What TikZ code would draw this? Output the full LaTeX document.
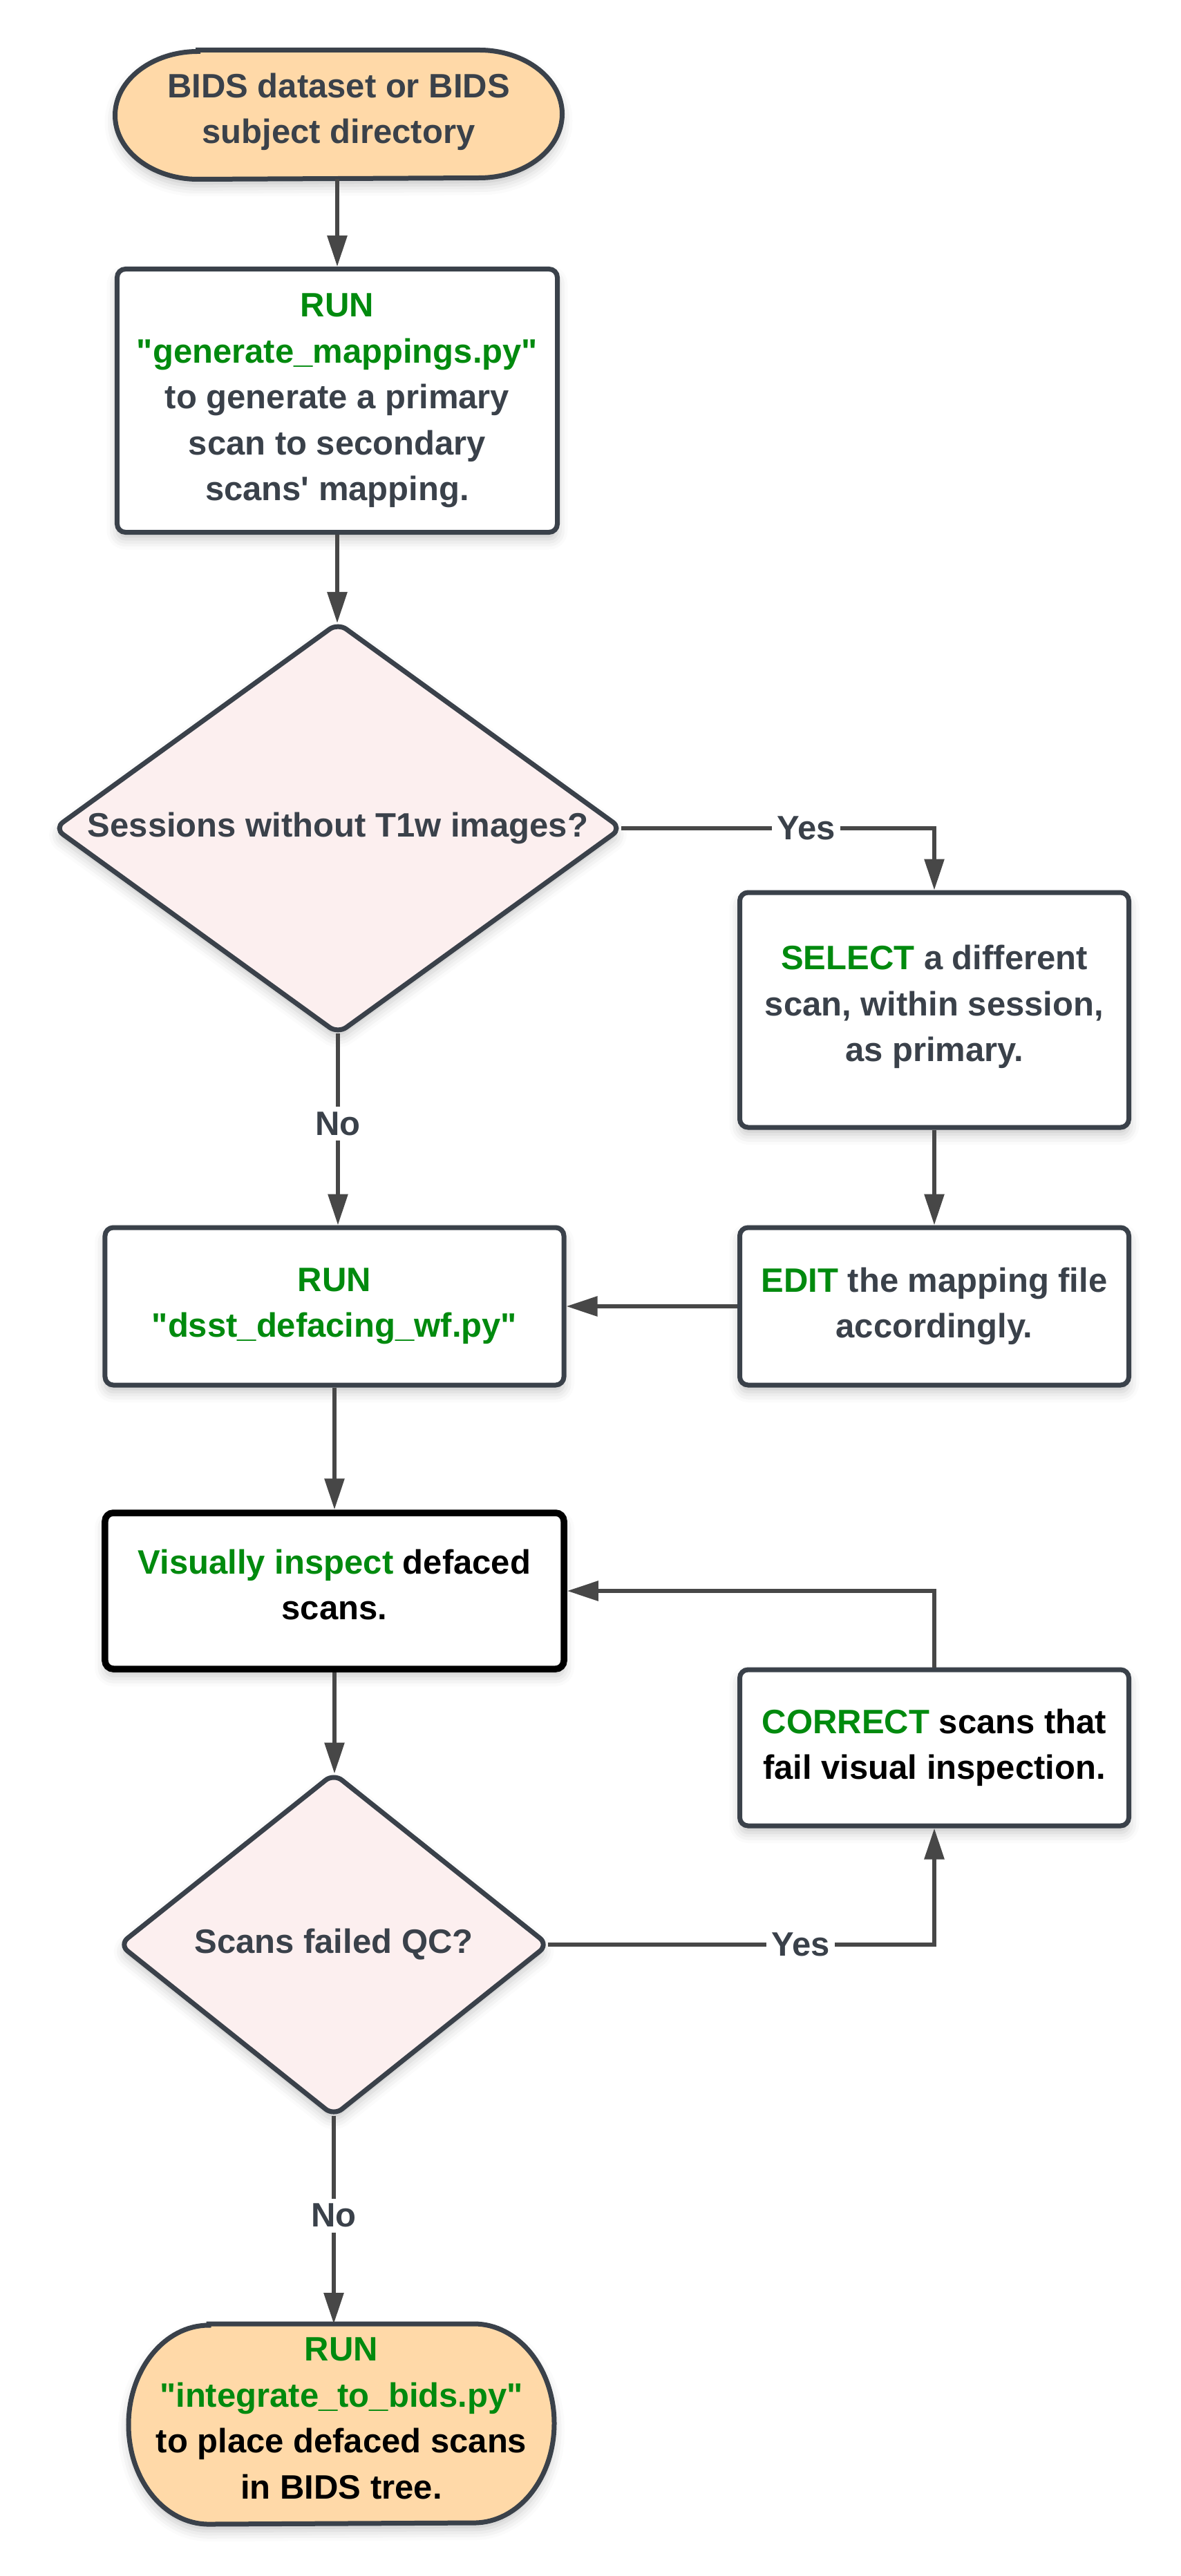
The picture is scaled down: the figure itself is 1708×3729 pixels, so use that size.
\documentclass[tikz,border=0pt]{standalone}
\usepackage{fontspec}
\setmainfont{Liberation Sans}[Ligatures=TeXOff]
\usetikzlibrary{arrows.meta,shadows.blur,calc}
\definecolor{bord}{HTML}{3A414A}
\definecolor{txt}{HTML}{3A414A}
\definecolor{grn}{HTML}{008A0E}
\definecolor{conn}{HTML}{474747}
\definecolor{peach}{HTML}{FFD9A8}
\definecolor{pinkf}{HTML}{FCEFEF}
\newcommand\dgfont{\fontsize{9.8pt}{13.3pt}\selectfont\bfseries}
\newcommand\gr[1]{\textcolor{grn}{#1}}
\newcommand\bk[1]{\textcolor{black}{#1}}
\tikzset{
  shad/.style={blur shadow={shadow xshift=0pt,shadow yshift=-2pt,shadow blur radius=3pt,shadow opacity=22}},
  txtnode/.style={rectangle,inner sep=0pt,align=center,font=\dgfont,text=txt},
  boxnode/.style={txtnode,draw=bord,line width=1.4pt,rounded corners=2.4pt,fill=white,shad},
  boldbox/.style={boxnode,draw=black,line width=1.9pt},
  shapeline/.style={draw=bord,line width=1.4pt},
  conline/.style={draw=conn,line width=1.2pt},
  arr/.style={conline,-{Triangle[length=9pt,width=5.6pt]}},
  lbl/.style={fill=white,inner sep=1.5pt,font=\dgfont,text=txt},
}
\begin{document}
\begin{tikzpicture}[x=0.2pt,y=-0.2pt]
\useasboundingbox (0,0) rectangle (1708,3729);
% start terminal
\node[txtnode,minimum width=129pt,minimum height=37pt] (start) at (490,166) {};
\path[shapeline,fill=peach,shad] ($(start.north west)+(24pt,0)$) -- ($(start.north east)+(-24pt,0)$)
  arc[start angle=90,end angle=-90,x radius=24pt,y radius=18.5pt]
  -- ($(start.south west)+(24pt,0)$)
  arc[start angle=270,end angle=90,x radius=24pt,y radius=18.5pt] -- cycle;
\node[txtnode] (starttext) at ($(start.center)+(0,0.8pt)$) {BIDS dataset or BIDS\\subject directory};
% box 1
\node[boxnode,minimum width=127.4pt,minimum height=76.2pt] (gen) at (488,580)
  {\gr{RUN}\\\gr{"generate\_mappings.py"}\\to generate a primary\\scan to secondary\\scans' mapping.};
% diamond 1
\node[txtnode,minimum width=163.6pt,minimum height=118.4pt] (d1) at (489,1199) {};
\path[shapeline,fill=pinkf,shad,rounded corners=3pt] (d1.north) -- (d1.east) -- (d1.south) -- (d1.west) -- cycle;
\node[txtnode] (d1text) at (d1.center) {Sessions without T1w images?};
% select
\node[boxnode,minimum width=112.6pt,minimum height=68pt] (sel) at (1352,1462) {};
\node[txtnode] (seltext) at ($(sel.center)+(0,0.9pt)$) {\gr{SELECT} a different\\scan, within session,\\as primary.};
% run dsst
\node[boxnode,minimum width=132.8pt,minimum height=45.6pt] (run) at (484,1891)
  {\gr{RUN}\\\gr{"dsst\_defacing\_wf.py"}};
% edit
\node[boxnode,minimum width=112.6pt,minimum height=45.6pt] (edit) at (1352,1891)
  {\gr{EDIT} the mapping file\\accordingly.};
% visually inspect
\node[boldbox,minimum width=132.8pt,minimum height=45.2pt] (vis) at (484,2303) {};
\node[txtnode] (vistext) at ($(vis.center)+(0,1.8pt)$) {\gr{Visually inspect} \bk{defaced}\\\bk{scans.}};
% correct
\node[boxnode,minimum width=112.6pt,minimum height=45.2pt] (cor) at (1352,2530)
  {\gr{CORRECT} \bk{scans that}\\\bk{fail visual inspection.}};
% diamond 2
\node[txtnode,minimum width=123.6pt,minimum height=98.6pt] (d2) at (483,2815) {};
\path[shapeline,fill=pinkf,shad,rounded corners=3pt] (d2.north) -- (d2.east) -- (d2.south) -- (d2.west) -- cycle;
\node[txtnode] (d2text) at (d2.center) {Scans failed QC?};
% end terminal
\node[txtnode,minimum width=122.8pt,minimum height=57.6pt] (end) at (494,3509) {};
\path[shapeline,fill=peach,shad] ($(end.north west)+(23.2pt,0)$) -- ($(end.north east)+(-23.2pt,0)$)
  arc[start angle=90,end angle=-90,x radius=23.2pt,y radius=28.8pt]
  -- ($(end.south west)+(23.2pt,0)$)
  arc[start angle=270,end angle=90,x radius=23.2pt,y radius=28.8pt] -- cycle;
\node[txtnode] (endtext) at ($(end.center)+(0,1.6pt)$) {\gr{RUN}\\\gr{"integrate\_to\_bids.py"}\\\bk{to place defaced scans}\\\bk{in BIDS tree.}};
% connectors
\draw[arr] (start.south -| gen.north) -- (gen.north);
\draw[arr] (gen.south) -- (gen.south |- d1.north);
\draw[arr] (d1.east) -| node[lbl,pos=0.295] {Yes} (sel.north);
\draw[arr] (d1.south) -- node[lbl,pos=0.47] {No} (d1.south |- run.north);
\draw[arr] (sel.south) -- (edit.north);
\draw[arr] (edit.west) -- (run.east);
\draw[arr] (run.south) -- (vis.north);
\draw[arr] (vis.south) -- (vis.south |- d2.north);
\draw[arr] (cor.north) |- (vis.east);
\draw[arr] (d2.east) -| node[lbl,pos=0.327] {Yes} (cor.south);
\draw[arr] (d2.south) -- node[lbl,pos=0.48] {No} (d2.south |- end.north);
\end{tikzpicture}
\end{document}
